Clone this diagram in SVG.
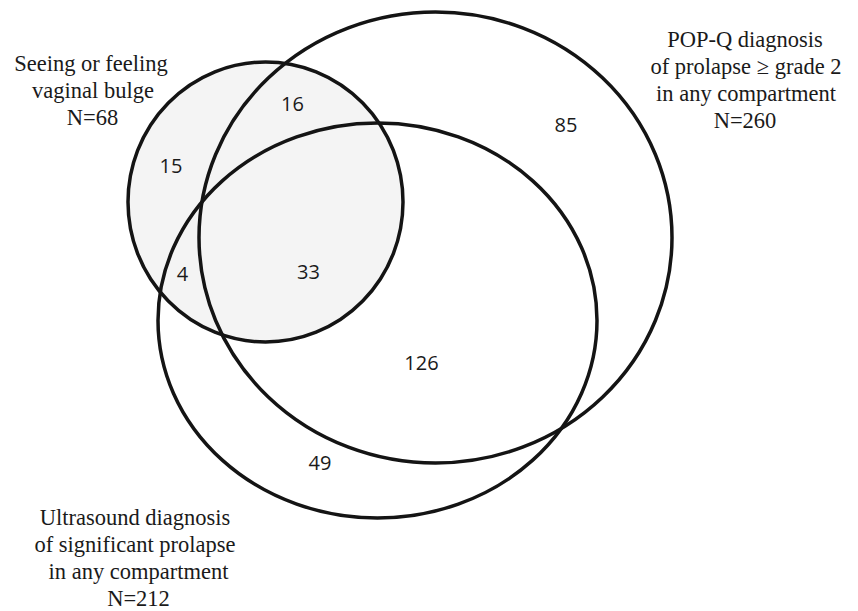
<svg xmlns="http://www.w3.org/2000/svg" width="858" height="611" viewBox="0 0 858 611">
  <style>
    .set { fill: none; stroke: #141414; stroke-width: 3.5; }
    .lbl { font-size: 22.5px; fill: #1a1a1a; text-anchor: middle; }
    .num { font-family: "Open Sans", "Noto Sans", "Liberation Sans", sans-serif; font-size: 20px; fill: #1a1a1a; text-anchor: middle; }
  </style>
  <rect x="0" y="0" width="858" height="611" fill="#ffffff"/>
  <g id="bulge">
    <ellipse cx="265.5" cy="202" rx="137.5" ry="140" fill="#f4f4f4" stroke="none"/>
    <ellipse class="set" cx="265.5" cy="202" rx="137.5" ry="140"/>
    <g font-family="'Liberation Serif', 'Times New Roman', 'DejaVu Serif', serif" class="lbl">
      <text x="91" y="71">Seeing or feeling</text>
      <text x="93" y="98">vaginal bulge</text>
      <text x="92.5" y="125">N=68</text>
    </g>
  </g>
  <g id="popq">
    <ellipse class="set" cx="435.5" cy="237.5" rx="236.5" ry="225.5"/>
    <g font-family="'Liberation Serif', 'Times New Roman', 'DejaVu Serif', serif" class="lbl">
      <text x="745" y="47">POP-Q diagnosis</text>
      <text x="746" y="74">of prolapse ≥ grade 2</text>
      <text x="746" y="101">in any compartment</text>
      <text x="745" y="128">N=260</text>
    </g>
  </g>
  <g id="ultrasound">
    <ellipse class="set" cx="377.5" cy="320.5" rx="219.5" ry="197.5"/>
    <g font-family="'Liberation Serif', 'Times New Roman', 'DejaVu Serif', serif" class="lbl">
      <text x="135" y="525">Ultrasound diagnosis</text>
      <text x="135" y="552">of significant prolapse</text>
      <text x="138.5" y="579">in any compartment</text>
      <text x="138.5" y="606">N=212</text>
    </g>
  </g>
  <g id="counts">
    <text class="num" x="171" y="173">15</text>
    <text class="num" x="292.5" y="111">16</text>
    <text class="num" x="182.5" y="281">4</text>
    <text class="num" x="308.5" y="279">33</text>
    <text class="num" x="566" y="132">85</text>
    <text class="num" x="421.5" y="370">126</text>
    <text class="num" x="320" y="470">49</text>
  </g>
</svg>
